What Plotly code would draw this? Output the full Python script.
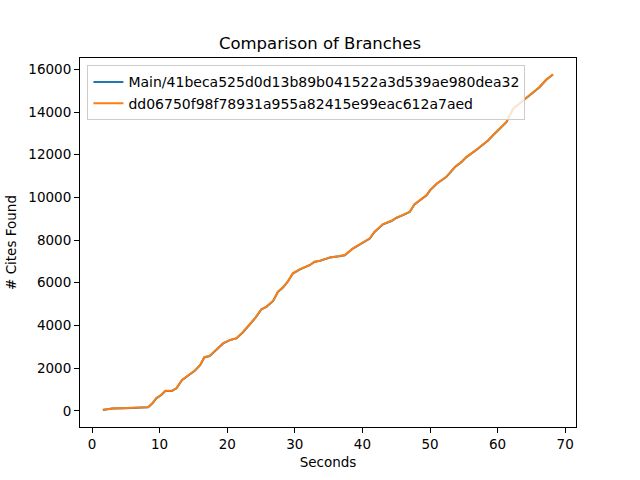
import plotly.graph_objects as go

main_label = "Main/41beca525d0d13b89b041522a3d539ae980dea32"
branch_label = "dd06750f98f78931a955a82415e99eac612a7aed"

seconds = [1.6, 3.0, 5.0, 7.0, 8.3, 9.0, 9.5, 10.25, 10.85, 11.8, 12.5, 13.3, 14.2, 15.2,
           16.0, 16.6, 17.4, 18.1, 19.4, 20.4, 21.35, 22.3, 23.3, 24.2, 25.05, 25.8, 26.8,
           27.5, 28.25, 29.0, 29.7, 30.7, 32.2, 32.9, 33.7, 35.2, 36.6, 37.4, 38.6, 39.8,
           41.1, 41.8, 43.05, 44.3, 45.0, 46.0, 47.0, 47.7, 48.6, 49.5, 50.0, 51.0, 52.4,
           53.7, 54.6, 55.4, 56.9, 58.0, 58.6, 59.3, 60.3, 61.3, 62.3, 63.8, 65.25, 66.2,
           67.2, 68.2]
cites_branch = [47, 110, 130, 150, 173, 380, 594, 750, 936, 936, 1062, 1450, 1650, 1885,
                2150, 2512, 2573, 2775, 3167, 3322, 3400, 3680, 4023, 4380, 4758, 4880, 5160,
                5581, 5787, 6080, 6442, 6629, 6831, 6985, 7032, 7188, 7251, 7298, 7610, 7850,
                8080, 8390, 8750, 8903, 9043, 9180, 9324, 9684, 9880, 10105, 10339, 10651,
                10962, 11430, 11650, 11897, 12243, 12500, 12678, 12912, 13200, 13535, 14161,
                14550, 14938, 15172, 15518, 15766]
cites_main = [40, 105, 125, 145, 168, 370, 585, 742, 928, 930, 1055, 1440, 1642, 1876,
              2140, 2500, 2565, 2766, 3158, 3314, 3392, 3670, 4012, 4370, 4748, 4872, 5150,
              5570, 5778, 6070, 6432, 6620, 6822, 6976, 7024, 7180, 7243, 7290, 7600, 7840,
              8070, 8380, 8740, 8894, 9034, 9170, 9315, 9674, 9870, 10095, 10330, 10641,
              10952, 11420, 11640, 11888, 12233, 12490, 12668, 12902, 13190, 13525, 14150,
              14540, 14928, 15162, 15508, 15756]

x_ticks = [0, 10, 20, 30, 40, 50, 60, 70]
y_ticks = [0, 2000, 4000, 6000, 8000, 10000, 12000, 14000, 16000]
y_tick_labels = [str(v) for v in y_ticks]

fig = go.Figure()
fig.add_trace(go.Scatter(x=seconds, y=cites_main, mode="lines", name=main_label,
                         line=dict(color="#1f77b4", width=2)))
fig.add_trace(go.Scatter(x=seconds, y=cites_branch, mode="lines", name=branch_label,
                         line=dict(color="#ff7f0e", width=2)))

axis_common = dict(showgrid=False, zeroline=False, showline=True, linecolor="black",
                   linewidth=1, mirror=True, ticks="outside", ticklen=5, tickwidth=1,
                   tickcolor="black", tickfont=dict(size=13.5, color="black"),
                   automargin=False)

fig.update_layout(
    width=640, height=480,
    margin=dict(l=80, r=64, t=57.6, b=52.8),
    paper_bgcolor="white", plot_bgcolor="white",
    font=dict(family="DejaVu Sans", size=13.5, color="black"),
    title=dict(text="Comparison of Branches", x=0.5, xanchor="center",
               y=1 - 43 / 480, yanchor="middle", font=dict(size=16.5)),
    xaxis=dict(range=[-1.78, 71.6], tickvals=x_ticks,
               title=dict(text="Seconds", standoff=6, font=dict(size=13.5)), **axis_common),
    yaxis=dict(range=[-758, 16530], tickvals=y_ticks, ticktext=y_tick_labels,
               title=dict(text="# Cites Found", standoff=8, font=dict(size=13.5)), **axis_common),
    legend=dict(x=0.015, y=0.98, xanchor="left", yanchor="top",
                bgcolor="rgba(255,255,255,0.8)", bordercolor="#cccccc", borderwidth=1,
                font=dict(size=14), tracegroupgap=0, itemwidth=30),
    showlegend=True,
)

fig.write_html("out.html", config={"displayModeBar": False},
               post_script="document.body.style.margin='0px';")
